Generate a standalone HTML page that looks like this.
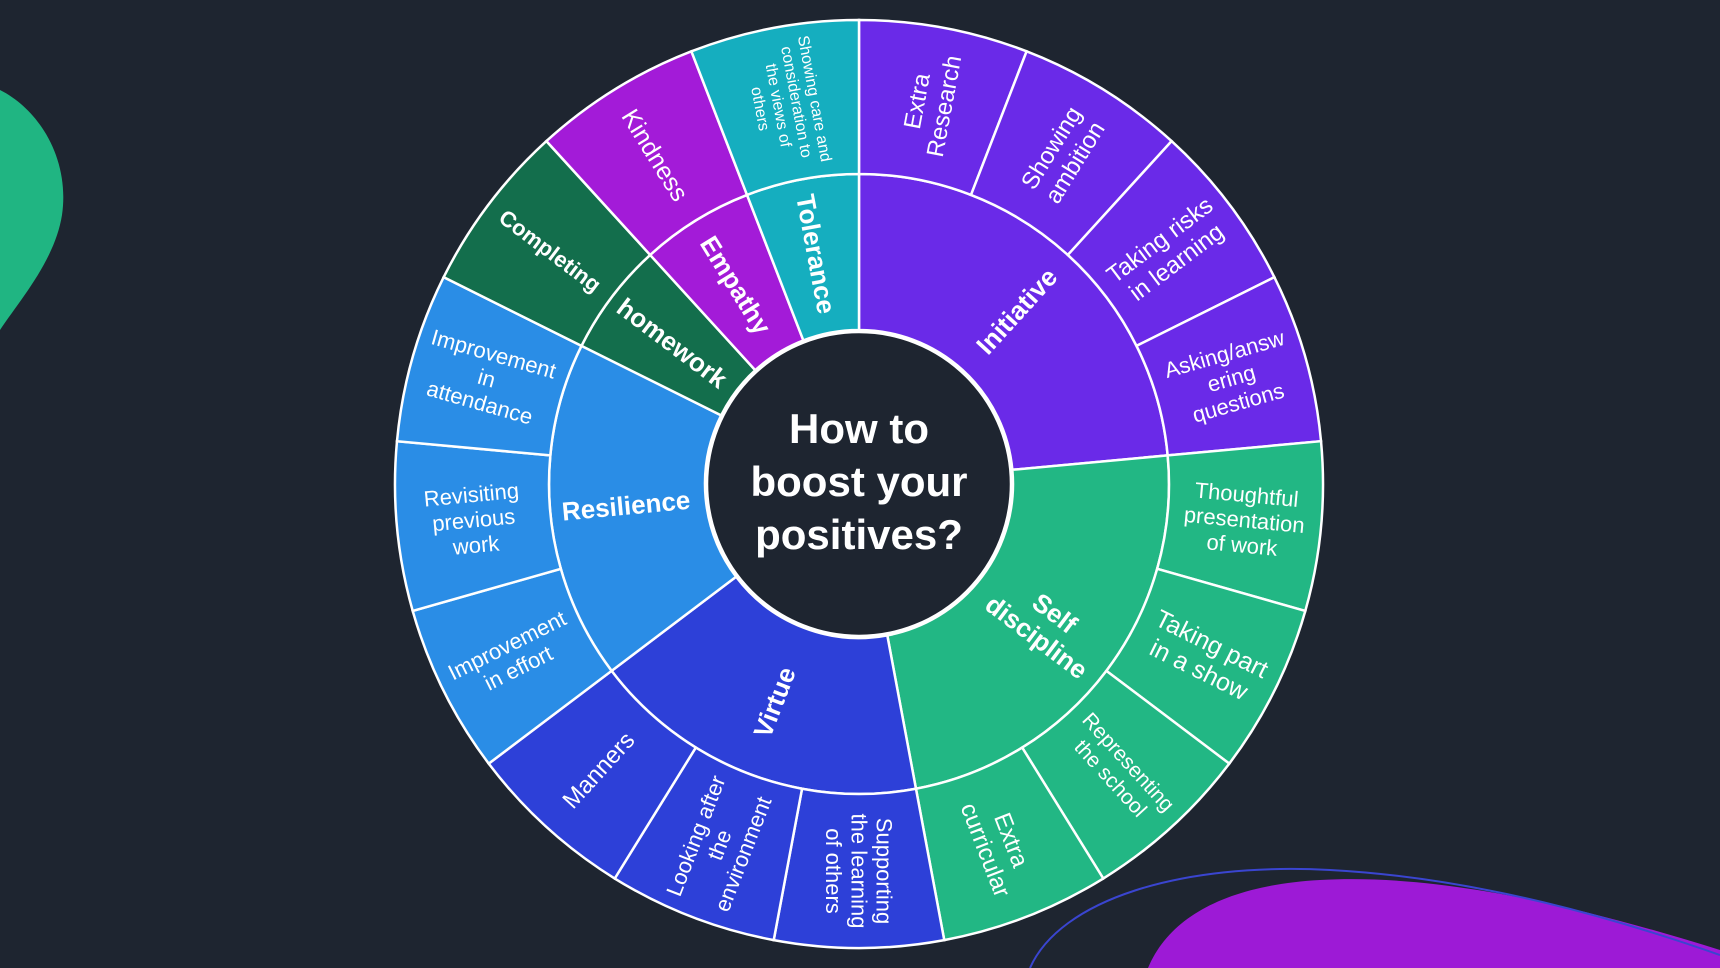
<!DOCTYPE html>
<html><head><meta charset="utf-8">
<style>
html,body{margin:0;padding:0;background:#1e2530;width:1720px;height:968px;overflow:hidden}
svg{display:block}
text{font-family:"Liberation Sans","DejaVu Sans",sans-serif;fill:#fff}
</style></head><body>
<svg id="s" width="1720" height="968" viewBox="0 0 1720 968" xmlns="http://www.w3.org/2000/svg">
<path d="M0,90 C40,110 70,160 62,215 C55,260 20,300 0,330 Z" fill="#20b582"/>
<path d="M1148,968 C1170,915 1230,885 1320,880 C1430,874 1560,900 1720,950 L1720,968 Z" fill="#9d1ad6"/>
<path d="M1030,968 C1060,900 1180,862 1330,870 C1480,878 1620,920 1720,955" fill="none" stroke="#3a45d0" stroke-width="2"/>
<g id="w"></g>
<circle cx="859" cy="484" r="152" fill="#1e2530" stroke="#fff" stroke-width="2.5"/>
<text x="859" y="443" text-anchor="middle" font-size="42" font-weight="bold">How to</text>
<text x="859" y="496" text-anchor="middle" font-size="42" font-weight="bold">boost your</text>
<text x="859" y="549" text-anchor="middle" font-size="42" font-weight="bold">positives?</text>
</svg>
<script>
var cx=859,cy=484,R0=154,R1=310,R2=464,S=360/17;
var inner=[
 ["Initiative",4,"#6a2ae8",["Initiative"]],
 ["Self",4,"#22b784",["Self","discipline"]],
 ["Virtue",3,"#2d40d8",["Virtue"]],
 ["Res",3,"#2a8de6",["Resilience"]],
 ["Comp",1,"#136e4c",["homework"]],
 ["Emp",1,"#a31bd8",["Empathy"]],
 ["Tol",1,"#15aebf",["Tolerance"]]
];
var outer=[
 [["Extra","Research"],24],[["Showing","ambition"],24],[["Taking risks","in learning"],24],[["Asking/answ","ering","questions"],22],
 [["Thoughtful","presentation","of work"],22],[["Taking part","in a show"],25],[["Representing","the school"],21],[["Extra","curricular"],24],
 [["Supporting","the learning","of others"],22],[["Looking after","the","environment"],22],[["Manners"],24],
 [["Improvement","in effort"],22],[["Revisiting","previous","work"],22],[["Improvement","in","attendance"],22],
 [["Completing"],22,1],[["Kindness"],25],[["Showing care and","consideration to","the views of","others"],16]
];
function pt(r,a){var t=a*Math.PI/180;return [cx+r*Math.sin(t),cy-r*Math.cos(t)];}
function seg(r1,r2,a1,a2,fill){
 var p1=pt(r2,a1),p2=pt(r2,a2),p3=pt(r1,a2),p4=pt(r1,a1),l=(a2-a1)>180?1:0;
 return '<path d="M'+p1+' A'+r2+','+r2+' 0 '+l+' 1 '+p2+' L'+p3+' A'+r1+','+r1+' 0 '+l+' 0 '+p4+' Z" fill="'+fill+'" stroke="#fff" stroke-width="2.5"/>';
}
function lab(r,a,lines,fs,bold){
 var p=pt(r,a),rot=(a>0&&a<=180)?a-90:a-270;
 var lh=fs*1.15,y0=-(lines.length-1)*lh/2+fs*0.35,s='<text transform="translate('+p[0]+','+p[1]+') rotate('+rot+')" text-anchor="middle" font-size="'+fs+'"'+(bold?' font-weight="bold"':'')+'>';
 lines.forEach(function(t,i){s+='<tspan x="0" y="'+(y0+i*lh)+'">'+t+'</tspan>';});
 return s+'</text>';
}
var h='',k=0,a=0,segs=[],labs='';
inner.forEach(function(g){
 var a1=a,a2=a+g[1]*S;
 h+=seg(R0,R1,a1,a2,g[2]);
 for(var i=0;i<g[1];i++){var b=a+i*S;segs.push(seg(R1,R2,b,b+S,g[2]));var o=outer[k++];labs+=lab(387,b+S/2,o[0],o[1],o[2]);}
 labs+=lab(234,(a1+a2)/2,g[3],26,1);
 a=a2;
});
document.getElementById('w').innerHTML=h+segs.join('')+labs;
</script>
</body></html>
